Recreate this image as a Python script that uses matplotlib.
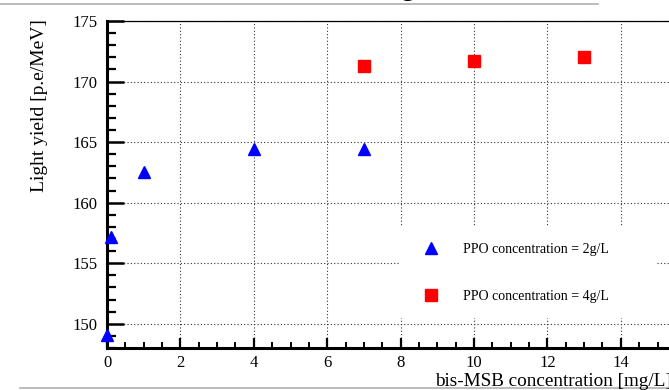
"""Light yield vs bis-MSB concentration, ROOT-style canvas."""

import matplotlib

matplotlib.use("Agg")
import matplotlib.pyplot as plt  # noqa: E402
from matplotlib.lines import Line2D  # noqa: E402
from matplotlib.patches import Rectangle  # noqa: E402
from matplotlib.ticker import MultipleLocator  # noqa: E402

plt.rcParams["font.family"] = ["Liberation Serif", "DejaVu Serif"]

# bis-MSB concentration [mg/L] and light yield [p.e/MeV]
ppo2_msb = [0.0, 0.1, 1.0, 4.0, 7.0]
ppo2_ly = [149.1, 157.2, 162.5, 164.4, 164.4]
ppo4_msb = [7.0, 10.0, 13.0]
ppo4_ly = [171.3, 171.7, 172.0]

labels = ["PPO concentration = 2g/L", "PPO concentration = 4g/L"]

W, H = 669, 390
fig = plt.figure(figsize=(W / 100, H / 100), dpi=100)

# axes run past the right edge of the canvas (cropped screenshot)
x0, x1 = 0.0, 16.0
px_per_unit = 36.7
left_px, top_px, bottom_px = 107, 21, 348
right_px = left_px + (x1 - x0) * px_per_unit
ax_w = right_px - left_px
ax_h = bottom_px - top_px
ax = fig.add_axes([left_px / W, 1 - bottom_px / H, ax_w / W, ax_h / H])
ax.set_xlim(x0, x1)
ax.set_ylim(148, 175)

ax.plot(ppo2_msb, ppo2_ly, ls="none", marker="^", ms=9, color="#0000ff",
        clip_on=False, zorder=4)
ax.plot(ppo4_msb, ppo4_ly, ls="none", marker="s", ms=8.5, color="#ff0000",
        clip_on=False, zorder=4)

ax.xaxis.set_major_locator(MultipleLocator(2))
ax.xaxis.set_minor_locator(MultipleLocator(0.5))
ax.yaxis.set_major_locator(MultipleLocator(5))
ax.yaxis.set_minor_locator(MultipleLocator(1))
ax.tick_params(axis="x", which="major", direction="in", length=7.5, width=1.6,
               labelsize=12, pad=5)
ax.tick_params(axis="x", which="minor", direction="in", length=4, width=1.4)
ax.tick_params(axis="y", which="major", direction="in", length=12.5, width=1.8,
               labelsize=12, pad=6.5)
ax.tick_params(axis="y", which="minor", direction="in", length=6.5, width=1.6)
ax.grid(True, which="major", ls=(0, (1, 2)), color="#333333", lw=0.8)
ax.set_axisbelow(True)

for side in ("left", "bottom"):
    ax.spines[side].set_linewidth(2.2)
ax.spines["top"].set_linewidth(0.9)
ax.spines["right"].set_visible(False)

# white legend pad (no border), hides the grid behind it
pad_l, pad_r, pad_t, pad_b = 400, 657, 226, 318
ax.add_patch(Rectangle(((pad_l - left_px) / ax_w, 1 - (pad_b - top_px) / ax_h),
                       (pad_r - pad_l) / ax_w, (pad_b - pad_t) / ax_h,
                       transform=ax.transAxes, facecolor="white", edgecolor="none",
                       zorder=2.5))

handles = [
    Line2D([], [], ls="none", marker="^", ms=9, color="#0000ff"),
    Line2D([], [], ls="none", marker="s", ms=8.5, color="#ff0000"),
]
leg = ax.legend(
    handles, labels, loc="upper left",
    bbox_to_anchor=((405 - left_px) / ax_w, 1 - (228 - top_px) / ax_h),
    fontsize=10, frameon=False, labelspacing=2.45, handletextpad=1.6,
    borderpad=1.1, handlelength=1.5, borderaxespad=0,
)
leg.set_zorder(3)

fig.text(1 + 3 / W, 4 / H, "bis-MSB concentration [mg/L]", ha="right", va="baseline",
         fontsize=13.8)
fig.text(40 / W, 1 - 19 / H, "Light yield [p.e/MeV]", ha="center", va="top",
         rotation=90, fontsize=14)

# cropped title remnant and pad borders at the canvas edges
fig.text(420 / W, 1 + 5 / H, "[g/L]", ha="center", va="baseline", fontsize=20)
fig.add_artist(Line2D([0, 598 / W], [1 - 4 / H] * 2, color="#b0b0b0", lw=1.2))
fig.add_artist(Line2D([20 / W, 1], [1 - 388 / H] * 2, color="#b0b0b0", lw=1.2))

fig.savefig("out.png", dpi=100)
